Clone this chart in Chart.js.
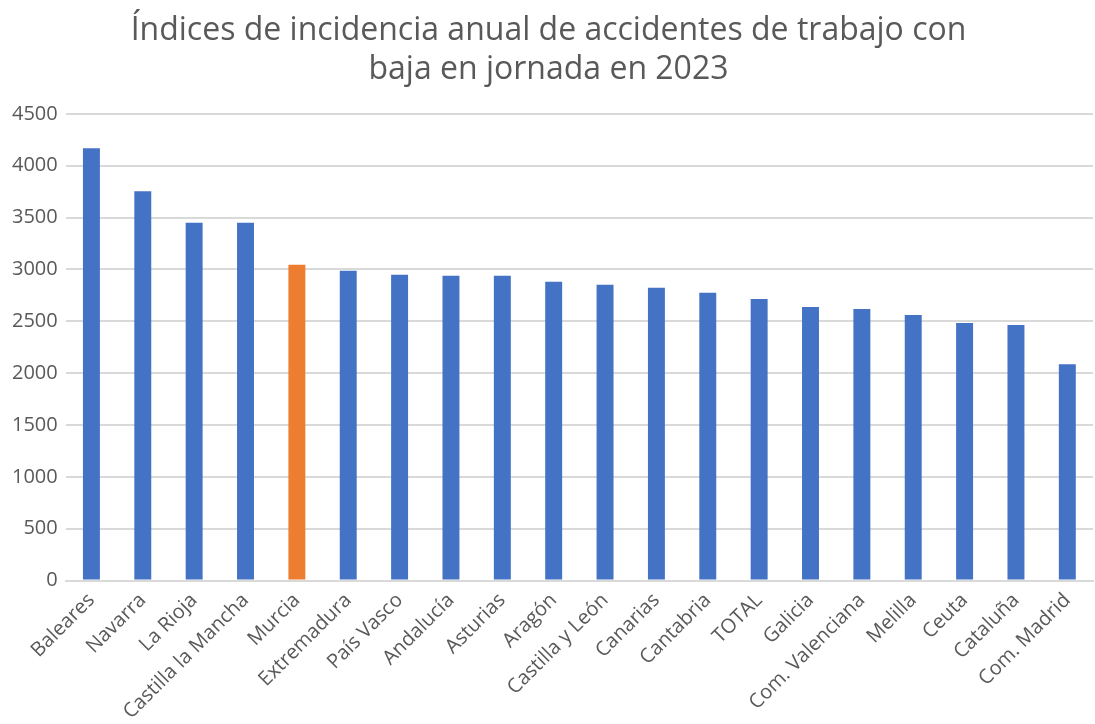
<!DOCTYPE html>
<html>
<head>
<meta charset="utf-8">
<script src="https://cdn.jsdelivr.net/npm/chart.js@4"></script>
<style>
  body { margin: 0; background: #fff; }
  #wrap { width: 1095px; height: 724px; }
</style>
</head>
<body>
<div id="wrap"><canvas id="accChart" width="1095" height="724"></canvas></div>
<script>
const regions = ['Baleares', 'Navarra', 'La Rioja', 'Castilla la Mancha', 'Murcia', 'Extremadura',
    'País Vasco', 'Andalucía', 'Asturias', 'Aragón', 'Castilla y León', 'Canarias', 'Cantabria',
    'TOTAL', 'Galicia', 'Com. Valenciana', 'Melilla', 'Ceuta', 'Cataluña', 'Com. Madrid'];
const incidence = [4167, 3753, 3450, 3450, 3045, 2987, 2948, 2939, 2939, 2880, 2851, 2822, 2774,
    2715, 2638, 2618, 2560, 2483, 2463, 2085];
const highlight = 'Murcia';

document.addEventListener('DOMContentLoaded', function() {
    const ctx = document.getElementById('accChart');
    const colors = regions.map(r => r === highlight ? '#ED7D31' : '#4472C4');

    new Chart(ctx, {
        type: 'bar',
        data: {
            labels: regions,
            datasets: [{
                data: incidence,
                backgroundColor: colors,
                barPercentage: 0.33,
                categoryPercentage: 1.0
            }]
        },
        options: {
            responsive: false,
            animation: false,
            layout: { padding: { left: 4, right: 2, top: 4, bottom: 0 } },
            plugins: {
                legend: { display: false },
                tooltip: { enabled: false },
                title: {
                    display: true,
                    text: ['Índices de incidencia anual de accidentes de trabajo con', 'baja en jornada en 2023'],
                    color: '#595959',
                    font: { family: 'Open Sans', size: 32, weight: 'normal' },
                    padding: { top: 8, bottom: 25 },
                    lineHeight: 1.12
                }
            },
            scales: {
                x: {
                    grid: { display: false },
                    border: { color: '#D9D9D9', width: 2 },
                    ticks: {
                        color: '#595959',
                        padding: 0,
                        font: { family: 'Open Sans', size: 20 },
                        maxRotation: 45,
                        minRotation: 45,
                        autoSkip: false
                    }
                },
                y: {
                    min: 0,
                    max: 4500,
                    grid: { color: '#D9D9D9', lineWidth: 2, drawTicks: false },
                    border: { display: false },
                    ticks: {
                        stepSize: 500,
                        color: '#595959',
                        padding: 8,
                        font: { family: 'Open Sans', size: 20 },
                        callback: v => String(v)
                    }
                }
            }
        }
    });
});
</script>
</body>
</html>
